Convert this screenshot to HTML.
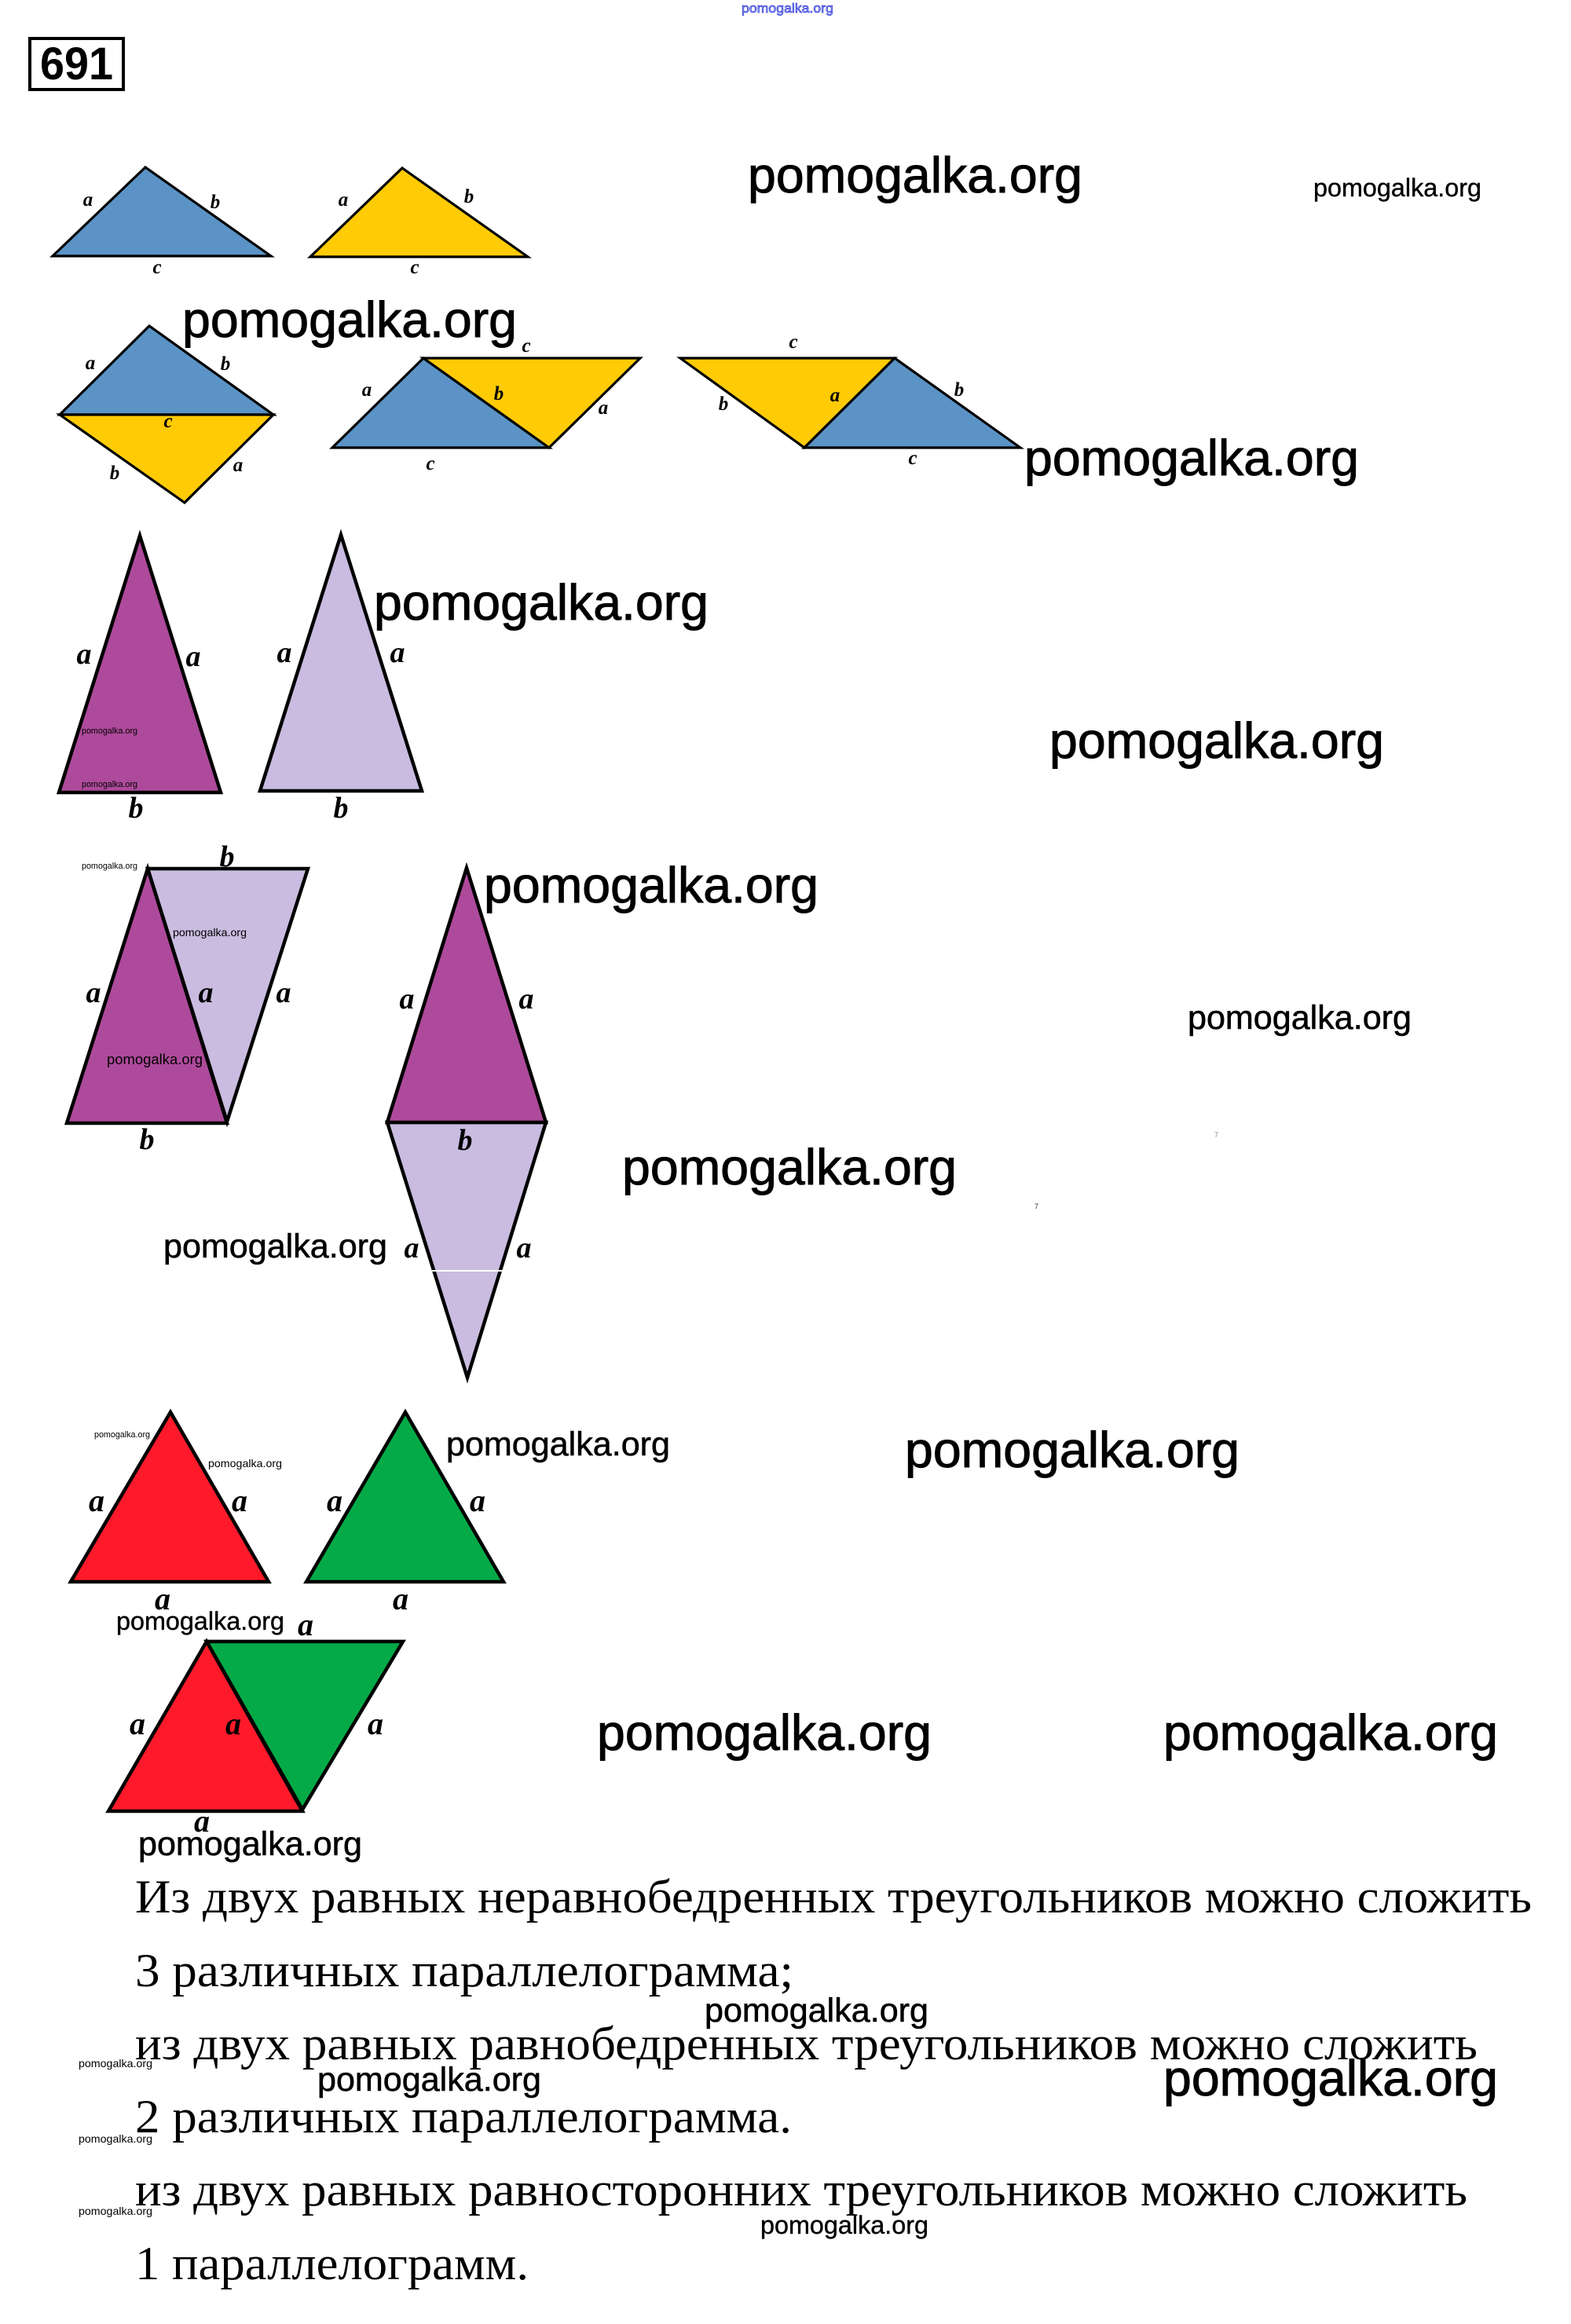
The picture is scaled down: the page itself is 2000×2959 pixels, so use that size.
<!DOCTYPE html>
<html><head><meta charset="utf-8"><style>
html,body{margin:0;padding:0;background:#fff;width:2000px;height:2959px;overflow:hidden}
svg{display:block}
.w{font-family:"Liberation Sans",sans-serif;fill:#000;stroke:#000}
.l{font-family:"Liberation Serif",serif;font-weight:bold;font-style:italic;fill:#000;text-anchor:middle}
.t{font-family:"Liberation Serif","Noto Serif CJK SC",serif;font-size:60px;fill:#000}
polygon{stroke:#000;stroke-width:4.5;stroke-linejoin:miter}
.thin polygon{stroke-width:3.2}
.bl{fill:#5b93c6}.ye{fill:#ffcb05}.pu{fill:#ae4a9b}.li{fill:#c9bce0}.re{fill:#fe1a2a}.gr{fill:#04aa47}
</style></head><body>
<svg width="2000" height="2959" viewBox="0 0 2000 2959" xmlns="http://www.w3.org/2000/svg">
<rect width="2000" height="2959" fill="#fff"/>
<rect x="38" y="49" width="119" height="65" fill="none" stroke="#000" stroke-width="4"/>
<text x="51" y="101" font-family="Liberation Sans,sans-serif" font-weight="bold" font-size="58" textLength="93" lengthAdjust="spacingAndGlyphs">691</text>

<g class="thin">
<!-- row 1 -->
<polygon class="bl" points="185,213 67,326 345,326"/>
<polygon class="ye" points="512,214 395,327 672,327"/>
<!-- row 2 -->
<polygon class="bl" points="190,415 76,528 348,528"/>
<polygon class="ye" points="76,528 348,528 235,640"/>
<polygon class="bl" points="539,456 699,570 423,570"/>
<polygon class="ye" points="539,456 815,456 699,570"/>
<polygon class="ye" points="866,456 1139,456 1024,570"/>
<polygon class="bl" points="1139,456 1299,570 1024,570"/>
</g>
<g class="l" font-size="25">
<text x="112" y="262">a</text><text x="274" y="265">b</text><text x="200" y="348">c</text>
<text x="437" y="262">a</text><text x="597" y="258">b</text><text x="528" y="348">c</text>
<text x="115" y="470">a</text><text x="287" y="471">b</text><text x="214" y="544">c</text><text x="146" y="610">b</text><text x="303" y="600">a</text>
<text x="670" y="448">c</text><text x="467" y="504">a</text><text x="635" y="509">b</text><text x="768" y="527">a</text><text x="548" y="598">c</text>
<text x="1010" y="443">c</text><text x="921" y="522">b</text><text x="1063" y="511">a</text><text x="1221" y="504">b</text><text x="1162" y="591">c</text>
</g>
<!-- isosceles -->
<polygon class="pu" points="178,682 75,1009 281,1009"/>
<polygon class="li" points="434,681 331,1007 537,1007"/>
<polygon class="li" points="188,1106 392,1106 289,1428"/>
<polygon class="pu" points="188,1106 289,1430 85,1430"/>
<polygon class="li" points="493,1429 695,1429 595,1754"/>
<polygon class="pu" points="594,1105 493,1429 695,1429"/>
<rect x="550" y="1617" width="90" height="2" fill="#fff"/>
<g class="l" font-size="38">
<text x="107" y="845">a</text><text x="246" y="848">a</text><text x="173" y="1041">b</text>
<text x="362" y="843">a</text><text x="506" y="843">a</text><text x="434" y="1041">b</text>
<text x="289" y="1103">b</text><text x="119" y="1276">a</text><text x="262" y="1276">a</text><text x="361" y="1276">a</text><text x="187" y="1463">b</text>
<text x="518" y="1284">a</text><text x="670" y="1284">a</text><text x="592" y="1464">b</text><text x="524" y="1601">a</text><text x="667" y="1601">a</text>
</g>
<!-- equilateral -->
<polygon class="re" points="217,1798 90,2014 342,2014"/>
<polygon class="gr" points="516,1798 390,2014 641,2014"/>
<polygon class="gr" points="263,2090 513,2090 385,2304"/>
<polygon class="re" points="263,2090 385,2306 138,2306"/>
<g class="l" font-size="40">
<text x="123" y="1924">a</text><text x="305" y="1924">a</text><text x="426" y="1924">a</text><text x="608" y="1924">a</text>
<text x="207" y="2049">a</text><text x="510" y="2049">a</text><text x="389" y="2082">a</text>
<text x="175" y="2208">a</text><text x="297" y="2208">a</text><text x="478" y="2208">a</text><text x="257" y="2332">a</text>
</g>

<!-- Russian text -->
<text class="t" x="172" y="2435" textLength="1778" lengthAdjust="spacingAndGlyphs">Из двух равных неравнобедренных треугольников можно сложить</text>
<text class="t" x="172" y="2529" textLength="838" lengthAdjust="spacingAndGlyphs">3 различных параллелограмма;</text>
<text class="t" x="172" y="2622" textLength="1709" lengthAdjust="spacingAndGlyphs">из двух равных равнобедренных треугольников можно сложить</text>
<text class="t" x="172" y="2715" textLength="836" lengthAdjust="spacingAndGlyphs">2 различных параллелограмма.</text>
<text class="t" x="172" y="2808" textLength="1696" lengthAdjust="spacingAndGlyphs">из двух равных равносторонних треугольников можно сложить</text>
<text class="t" x="172" y="2902" textLength="501" lengthAdjust="spacingAndGlyphs">1 параллелограмм.</text>

<!-- large watermarks -->
<g class="w" font-size="64" stroke-width="1">
<text x="952" y="245" textLength="426" lengthAdjust="spacingAndGlyphs">pomogalka.org</text>
<text x="232" y="429" textLength="426" lengthAdjust="spacingAndGlyphs">pomogalka.org</text>
<text x="1304" y="605" textLength="426" lengthAdjust="spacingAndGlyphs">pomogalka.org</text>
<text x="476" y="789" textLength="426" lengthAdjust="spacingAndGlyphs">pomogalka.org</text>
<text x="1336" y="965" textLength="426" lengthAdjust="spacingAndGlyphs">pomogalka.org</text>
<text x="616" y="1149" textLength="426" lengthAdjust="spacingAndGlyphs">pomogalka.org</text>
<text x="792" y="1508" textLength="426" lengthAdjust="spacingAndGlyphs">pomogalka.org</text>
<text x="1152" y="1868" textLength="426" lengthAdjust="spacingAndGlyphs">pomogalka.org</text>
<text x="760" y="2228" textLength="426" lengthAdjust="spacingAndGlyphs">pomogalka.org</text>
<text x="1481" y="2228" textLength="426" lengthAdjust="spacingAndGlyphs">pomogalka.org</text>
<text x="1481" y="2668" textLength="426" lengthAdjust="spacingAndGlyphs">pomogalka.org</text>
</g>
<!-- medium watermarks -->
<g class="w" font-size="43" stroke-width="0.6">
<text x="208" y="1601" textLength="285" lengthAdjust="spacingAndGlyphs">pomogalka.org</text>
<text x="1512" y="1310" textLength="285" lengthAdjust="spacingAndGlyphs">pomogalka.org</text>
<text x="568" y="1853" textLength="285" lengthAdjust="spacingAndGlyphs">pomogalka.org</text>
<text x="176" y="2362" textLength="285" lengthAdjust="spacingAndGlyphs">pomogalka.org</text>
<text x="897" y="2574" textLength="285" lengthAdjust="spacingAndGlyphs">pomogalka.org</text>
<text x="404" y="2662" textLength="285" lengthAdjust="spacingAndGlyphs">pomogalka.org</text>
</g>
<g class="w" font-size="32" stroke-width="0.4">
<text x="1672" y="250" textLength="214" lengthAdjust="spacingAndGlyphs">pomogalka.org</text>
<text x="148" y="2075" textLength="214" lengthAdjust="spacingAndGlyphs">pomogalka.org</text>
<text x="968" y="2844" textLength="214" lengthAdjust="spacingAndGlyphs">pomogalka.org</text>
</g>
<!-- tiny watermarks -->
<g class="w" stroke-width="0">
<text x="104" y="934" font-size="11" textLength="71" lengthAdjust="spacingAndGlyphs">pomogalka.org</text>
<text x="104" y="1002" font-size="11" textLength="71" lengthAdjust="spacingAndGlyphs">pomogalka.org</text>
<text x="104" y="1106" font-size="11" textLength="71" lengthAdjust="spacingAndGlyphs">pomogalka.org</text>
<text x="120" y="1830" font-size="11" textLength="71" lengthAdjust="spacingAndGlyphs">pomogalka.org</text>
<text x="220" y="1192" font-size="14" textLength="94" lengthAdjust="spacingAndGlyphs">pomogalka.org</text>
<text x="265" y="1868" font-size="14" textLength="94" lengthAdjust="spacingAndGlyphs">pomogalka.org</text>
<text x="136" y="1355" font-size="18" textLength="122" lengthAdjust="spacingAndGlyphs">pomogalka.org</text>
<text x="100" y="2632" font-size="14" textLength="94" lengthAdjust="spacingAndGlyphs">pomogalka.org</text>
<text x="100" y="2728" font-size="14" textLength="94" lengthAdjust="spacingAndGlyphs">pomogalka.org</text>
<text x="100" y="2820" font-size="14" textLength="94" lengthAdjust="spacingAndGlyphs">pomogalka.org</text>
</g>
<text x="944" y="16" font-family="Liberation Sans,sans-serif" font-size="17" fill="#a9aef5" stroke="#2a35d8" stroke-width="0.7" textLength="117" lengthAdjust="spacingAndGlyphs">pomogalka.org</text>
<text x="1546" y="1448" font-family="Liberation Sans,sans-serif" font-size="9" fill="#888">7</text>
<text x="1317" y="1539" font-family="Liberation Sans,sans-serif" font-size="9" fill="#333">7</text>
</svg>
</body></html>
